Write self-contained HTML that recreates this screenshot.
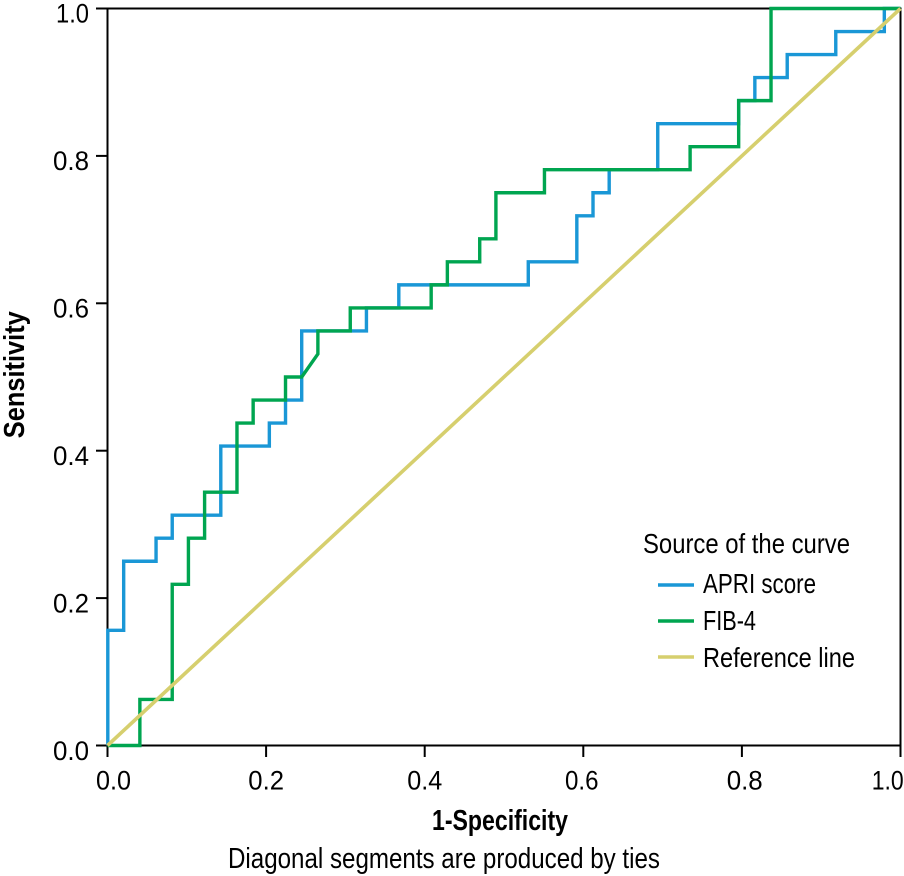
<!DOCTYPE html>
<html>
<head>
<meta charset="utf-8">
<style>
  html, body { margin: 0; padding: 0; background: #ffffff; }
  body { width: 904px; height: 876px; overflow: hidden; }
  svg { display: block; }
  text { font-family: "Liberation Sans Narrow", "Liberation Sans", sans-serif; fill: #000; }
  .tick { font-size: 27px; }
  .leg { font-size: 28px; }
  .title { font-size: 29px; font-weight: bold; }
  .foot { font-size: 29px; }
</style>
</head>
<body>
<svg width="904" height="876" viewBox="0 0 904 876" xmlns="http://www.w3.org/2000/svg">
  <rect x="0" y="0" width="904" height="876" fill="#ffffff"/>

  <!-- Frame / axes -->
  <line x1="96" y1="8.5" x2="901.5" y2="8.5" stroke="#000" stroke-width="2"/>
  <line x1="900.5" y1="8.5" x2="900.5" y2="757" stroke="#000" stroke-width="2"/>
  <line x1="107.5" y1="7.5" x2="107.5" y2="757" stroke="#000" stroke-width="2"/>
  <line x1="96" y1="745.5" x2="901.5" y2="745.5" stroke="#000" stroke-width="2"/>

  <!-- Y ticks -->
  <line x1="96" y1="598.1" x2="107.5" y2="598.1" stroke="#000" stroke-width="2"/>
  <line x1="96" y1="450.7" x2="107.5" y2="450.7" stroke="#000" stroke-width="2"/>
  <line x1="96" y1="303.3" x2="107.5" y2="303.3" stroke="#000" stroke-width="2"/>
  <line x1="96" y1="155.9" x2="107.5" y2="155.9" stroke="#000" stroke-width="2"/>

  <!-- X ticks -->
  <line x1="266.1" y1="745.5" x2="266.1" y2="757" stroke="#000" stroke-width="2"/>
  <line x1="424.7" y1="745.5" x2="424.7" y2="757" stroke="#000" stroke-width="2"/>
  <line x1="583.3" y1="745.5" x2="583.3" y2="757" stroke="#000" stroke-width="2"/>
  <line x1="741.9" y1="745.5" x2="741.9" y2="757" stroke="#000" stroke-width="2"/>

  <!-- APRI score (blue) -->
  <polyline fill="none" stroke="#1a97d6" stroke-width="3.4" stroke-linejoin="miter"
    points="107.8,745.5 107.8,630.34 123.68,630.34 123.68,561.25 156.05,561.25 156.05,538.22 172.23,538.22 172.23,515.19 220.79,515.19 220.79,446.09 269.34,446.09 269.34,423.06 285.52,423.06 285.52,400.03 301.70,400.03 301.70,330.94 366.44,330.94 366.44,307.91 398.81,307.91 398.81,284.88 528.28,284.88 528.28,261.84 576.83,261.84 576.83,215.78 593.01,215.78 593.01,192.75 609.19,192.75 609.19,169.72 657.74,169.72 657.74,123.66 738.66,123.66 738.66,100.63 754.85,100.63 754.85,77.59 787.22,77.59 787.22,54.56 835.77,54.56 835.77,31.53 884.32,31.53 884.32,8.5 900.5,8.5"/>

  <!-- FIB-4 (green) -->
  <polyline fill="none" stroke="#00a550" stroke-width="3.4" stroke-linejoin="miter"
    points="107.5,745.5 139.87,745.5 139.87,699.44 172.23,699.44 172.23,584.28 188.42,584.28 188.42,538.22 204.60,538.22 204.60,492.16 236.97,492.16 236.97,423.06 253.15,423.06 253.15,400.03 285.52,400.03 285.52,377.0 301.70,377.0 317.89,353.97 317.89,330.94 350.26,330.94 350.26,307.91 431.17,307.91 431.17,284.88 447.36,284.88 447.36,261.84 479.72,261.84 479.72,238.81 495.91,238.81 495.91,192.75 544.46,192.75 544.46,169.72 690.11,169.72 690.11,146.69 738.66,146.69 738.66,100.63 771.03,100.63 771.03,8.5 900.5,8.5"/>

  <!-- Reference line -->
  <line x1="107.5" y1="745.5" x2="900.5" y2="8.5" stroke="#d6cf6e" stroke-width="3.6"/>

  <!-- Y tick labels -->
  <text class="tick" x="89" y="760" text-anchor="end" textLength="36" lengthAdjust="spacingAndGlyphs">0.0</text>
  <text class="tick" x="89" y="612.5" text-anchor="end" textLength="36" lengthAdjust="spacingAndGlyphs">0.2</text>
  <text class="tick" x="89" y="465" text-anchor="end" textLength="36" lengthAdjust="spacingAndGlyphs">0.4</text>
  <text class="tick" x="89" y="317.5" text-anchor="end" textLength="36" lengthAdjust="spacingAndGlyphs">0.6</text>
  <text class="tick" x="89" y="170" text-anchor="end" textLength="36" lengthAdjust="spacingAndGlyphs">0.8</text>
  <text class="tick" x="89" y="22.7" text-anchor="end" textLength="33" lengthAdjust="spacingAndGlyphs">1.0</text>

  <!-- X tick labels -->
  <text class="tick" x="96" y="789.3" textLength="35" lengthAdjust="spacingAndGlyphs">0.0</text>
  <text class="tick" x="248.3" y="789.3" textLength="35.7" lengthAdjust="spacingAndGlyphs">0.2</text>
  <text class="tick" x="407.3" y="789.3" textLength="35" lengthAdjust="spacingAndGlyphs">0.4</text>
  <text class="tick" x="565" y="789.3" textLength="33.5" lengthAdjust="spacingAndGlyphs">0.6</text>
  <text class="tick" x="726.7" y="789.3" textLength="36" lengthAdjust="spacingAndGlyphs">0.8</text>
  <text class="tick" x="871.7" y="789.3" textLength="32" lengthAdjust="spacingAndGlyphs">1.0</text>

  <!-- Axis titles -->
  <text class="title" x="432" y="830" textLength="136" lengthAdjust="spacingAndGlyphs">1-Specificity</text>
  <text class="title" transform="translate(24,374.7) rotate(-90)" x="0" y="0" text-anchor="middle" textLength="127" lengthAdjust="spacingAndGlyphs">Sensitivity</text>
  <text class="foot" x="228" y="868" textLength="432" lengthAdjust="spacingAndGlyphs">Diagonal segments are produced by ties</text>

  <!-- Legend -->
  <text class="leg" x="643" y="553" textLength="207" lengthAdjust="spacingAndGlyphs">Source of the curve</text>
  <line x1="658" y1="585" x2="694" y2="585" stroke="#1a97d6" stroke-width="3.4"/>
  <text class="leg" x="703" y="593" textLength="113" lengthAdjust="spacingAndGlyphs">APRI score</text>
  <line x1="658" y1="621" x2="694" y2="621" stroke="#00a550" stroke-width="3.4"/>
  <text class="leg" x="703" y="630" textLength="53" lengthAdjust="spacingAndGlyphs">FIB-4</text>
  <line x1="658" y1="657" x2="694" y2="657" stroke="#d6cf6e" stroke-width="3.4"/>
  <text class="leg" x="703" y="667" textLength="152" lengthAdjust="spacingAndGlyphs">Reference line</text>
</svg>
</body>
</html>
